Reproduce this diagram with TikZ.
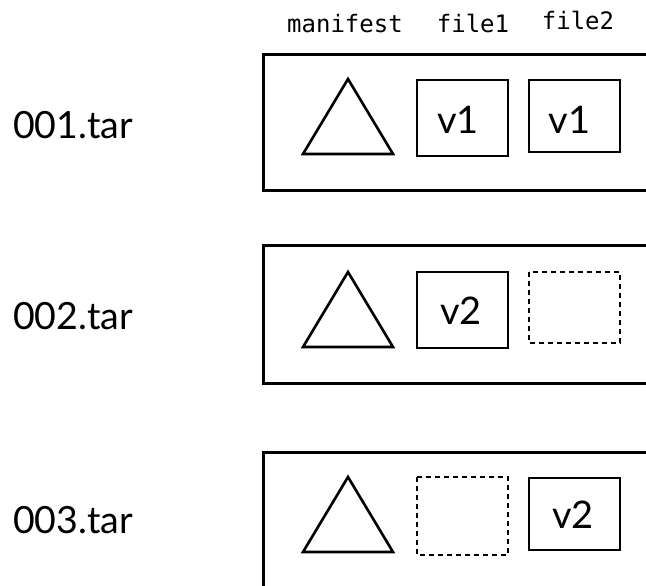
\documentclass[tikz,border=0pt]{standalone}
\usepackage{fontspec}
\setmainfont{Lato}
\newfontfamily\codefont{DejaVu Sans Mono}
\begin{document}
\begin{tikzpicture}[x=1pt,y=-1pt,
  tarbox/.style={draw=black,line width=3pt},
  filebox/.style={draw=black,line width=2.6pt},
  emptybox/.style={draw=black,line width=2.6pt,dash pattern=on 5pt off 4pt},
  tri/.style={draw=black,line width=2.6pt,line join=miter},
  tarlabel/.style={anchor=base west,inner sep=0pt,font=\fontsize{37.5}{40}\selectfont},
  verlabel/.style={anchor=base,inner sep=0pt,font=\fontsize{38}{40}\selectfont},
  collabel/.style={anchor=base,inner sep=0pt,font=\codefont\fontsize{24}{26}\selectfont}]
\useasboundingbox (0,0) rectangle (646,586);
\clip (0,0) rectangle (646,586);
% column headers
\node[collabel] (hman) at (345,33) {manifest};
\node[collabel] (hf1) at (473,33) {file1};
\node[collabel] (hf2) at (578,30) {file2};
% row 1
\node[tarlabel] (t1) at (13,139) {001.tar};
\draw[tarbox] (263.5,55) rectangle (700,190);
\draw[tri] (303,154) -- (348,79) -- (393,154) -- cycle;
\draw[filebox] (417,80) rectangle (508,156);
\node[verlabel] (v11) at (458,133) {v1};
\draw[filebox] (529,80) rectangle (620,152);
\node[verlabel] (v12) at (569.5,133) {v1};
% row 2
\node[tarlabel] (t2) at (13,329) {002.tar};
\draw[tarbox] (263.5,245) rectangle (700,383);
\draw[tri] (303,347) -- (348,272) -- (393,347) -- cycle;
\draw[filebox] (417,272) rectangle (508,348);
\node[verlabel] (v21) at (461,324) {v2};
\draw[emptybox] (529,272) rectangle (620,343);
% row 3
\node[tarlabel] (t3) at (13,533) {003.tar};
\draw[tarbox] (263.5,452) rectangle (700,640);
\draw[tri] (303,552) -- (348,477) -- (393,552) -- cycle;
\draw[emptybox] (417,477) rectangle (508,555);
\draw[filebox] (529,478) rectangle (620,550);
\node[verlabel] (v32) at (573,528) {v2};
\end{tikzpicture}
\end{document}
